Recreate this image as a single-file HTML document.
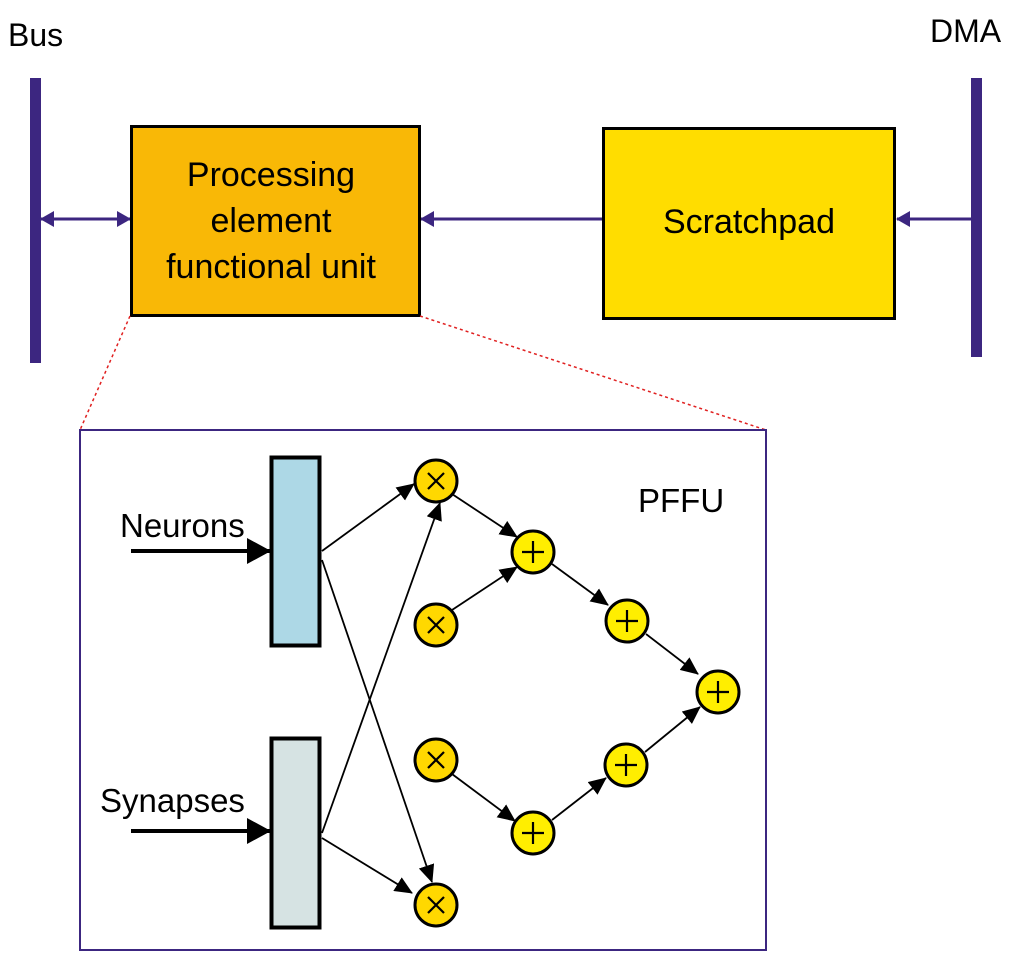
<!DOCTYPE html>
<html><head><style>body{margin:0;background:#fff}svg{display:block}text{font-family:"Liberation Sans",sans-serif;fill:#000}</style></head><body>
<svg width="1024" height="962" viewBox="0 0 1024 962" xmlns="http://www.w3.org/2000/svg">
<defs>
<marker id="pa" markerWidth="14" markerHeight="16" refX="13" refY="8" orient="auto" markerUnits="userSpaceOnUse"><path d="M0,0 L14,8 L0,16 z" fill="#3c2680"/></marker>
<marker id="pb" markerWidth="14" markerHeight="16" refX="1" refY="8" orient="auto" markerUnits="userSpaceOnUse"><path d="M14,0 L0,8 L14,16 z" fill="#3c2680"/></marker>
<marker id="ba" markerWidth="18" markerHeight="16" refX="17" refY="8" orient="auto" markerUnits="userSpaceOnUse"><path d="M0,0 L18,8 L0,16 z" fill="#000"/></marker>
<marker id="bb" markerWidth="24" markerHeight="26" refX="23" refY="13" orient="auto" markerUnits="userSpaceOnUse"><path d="M0,0 L24,13 L0,26 z" fill="#000"/></marker>
</defs>
<text x="8" y="46" font-size="32">Bus</text>
<text x="930" y="42" font-size="32">DMA</text>
<rect x="30" y="78" width="11" height="285" fill="#3c2680"/>
<rect x="971" y="78" width="11" height="279" fill="#3c2680"/>
<line x1="41" y1="219" x2="130" y2="219" stroke="#3c2680" stroke-width="3" marker-start="url(#pb)" marker-end="url(#pa)"/>
<line x1="602" y1="219" x2="421" y2="219" stroke="#3c2680" stroke-width="3" marker-end="url(#pa)"/>
<line x1="971" y1="219" x2="897" y2="219" stroke="#3c2680" stroke-width="3" marker-end="url(#pa)"/>
<rect x="131.5" y="126.5" width="288" height="189" fill="#f9b806" stroke="#000" stroke-width="3"/>
<text x="271" y="186" font-size="34" text-anchor="middle">Processing</text>
<text x="271" y="232" font-size="34" text-anchor="middle">element</text>
<text x="271" y="278" font-size="34" text-anchor="middle">functional unit</text>
<rect x="603.5" y="128.5" width="291" height="190" fill="#ffdd00" stroke="#000" stroke-width="3"/>
<text x="749" y="233" font-size="34" text-anchor="middle">Scratchpad</text>
<line x1="130" y1="316" x2="80" y2="430" stroke="#e02020" stroke-width="1.5" stroke-dasharray="3,3"/>
<line x1="420" y1="316" x2="766" y2="430" stroke="#e02020" stroke-width="1.5" stroke-dasharray="3,3"/>
<rect x="80" y="430" width="686" height="520" fill="none" stroke="#3c2680" stroke-width="2"/>
<text x="638" y="512" font-size="33">PFFU</text>
<rect x="271.5" y="457.5" width="48" height="188" fill="#add8e6" stroke="#000" stroke-width="4"/>
<rect x="271.5" y="738.5" width="48" height="189" fill="#d6e3e3" stroke="#000" stroke-width="4"/>
<text x="120" y="537" font-size="33">Neurons</text>
<text x="100" y="812" font-size="33">Synapses</text>
<line x1="131" y1="551" x2="270" y2="551" stroke="#000" stroke-width="4" marker-end="url(#bb)"/>
<line x1="131" y1="831" x2="270" y2="831" stroke="#000" stroke-width="4" marker-end="url(#bb)"/>
<g stroke="#000" stroke-width="1.8" fill="none">
<line x1="322" y1="551" x2="414" y2="484" marker-end="url(#ba)"/>
<line x1="322" y1="560" x2="432" y2="882" marker-end="url(#ba)"/>
<line x1="322" y1="833" x2="440" y2="503" marker-end="url(#ba)"/>
<line x1="322" y1="838" x2="412" y2="893" marker-end="url(#ba)"/>
<line x1="452" y1="494" x2="517" y2="537" marker-end="url(#ba)"/>
<line x1="452" y1="610" x2="517" y2="567" marker-end="url(#ba)"/>
<line x1="552" y1="564" x2="608" y2="605" marker-end="url(#ba)"/>
<line x1="646" y1="634" x2="698" y2="674" marker-end="url(#ba)"/>
<line x1="452" y1="774" x2="515" y2="821" marker-end="url(#ba)"/>
<line x1="552" y1="820" x2="606" y2="778" marker-end="url(#ba)"/>
<line x1="645" y1="752" x2="700" y2="707" marker-end="url(#ba)"/>
</g>
<g stroke="#000" stroke-width="3">
<circle cx="436" cy="481" r="21" fill="#ffd800"/>
<circle cx="436" cy="625" r="21" fill="#ffd800"/>
<circle cx="436" cy="760" r="21" fill="#ffd800"/>
<circle cx="436" cy="905" r="21" fill="#ffd800"/>
<circle cx="533" cy="552" r="21" fill="#ffee00"/>
<circle cx="533" cy="833" r="21" fill="#ffee00"/>
<circle cx="627" cy="621" r="21" fill="#ffee00"/>
<circle cx="626" cy="765" r="21" fill="#ffee00"/>
<circle cx="718" cy="692" r="21" fill="#ffee00"/>
</g>
<g stroke="#000" stroke-width="2.2">
<path d="M428,473 l16,16 M444,473 l-16,16"/>
<path d="M428,617 l16,16 M444,617 l-16,16"/>
<path d="M428,752 l16,16 M444,752 l-16,16"/>
<path d="M428,897 l16,16 M444,897 l-16,16"/>
<path d="M522,552 h22 M533,541 v22"/>
<path d="M522,833 h22 M533,822 v22"/>
<path d="M616,621 h22 M627,610 v22"/>
<path d="M615,765 h22 M626,754 v22"/>
<path d="M707,692 h22 M718,681 v22"/>
</g>
</svg>
</body></html>
